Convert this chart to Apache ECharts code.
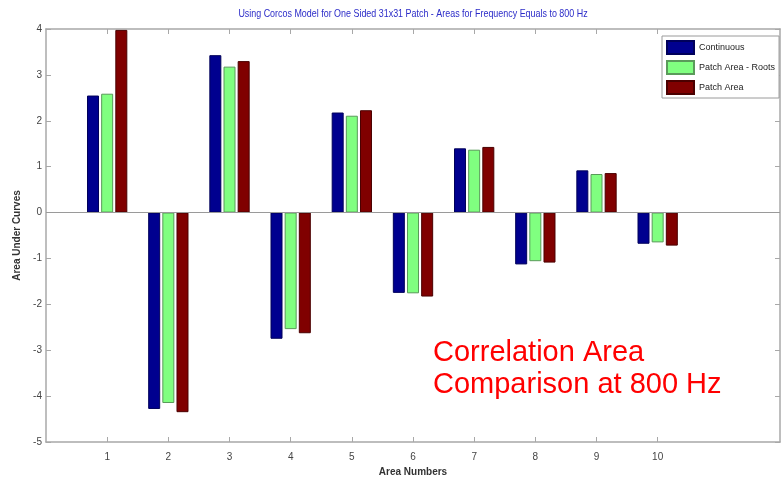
<!DOCTYPE html>
<html>
<head>
<meta charset="utf-8">
<script src="https://cdn.jsdelivr.net/npm/echarts@6/dist/echarts.min.js"></script>
<style>
html,body{margin:0;padding:0;background:#fff;}
#chart{width:782px;height:482px;}
</style>
</head>
<body>
<div id="chart"></div>
<script>
const categories = [1, 2, 3, 4, 5, 6, 7, 8, 9, 10];
const continuous = [2.55, -4.28, 3.43, -2.75, 2.18, -1.75, 1.40, -1.13, 0.92, -0.68];
const patchRoots = [2.59, -4.15, 3.18, -2.54, 2.11, -1.76, 1.37, -1.06, 0.84, -0.65];
const patchArea  = [3.98, -4.35, 3.30, -2.63, 2.23, -1.83, 1.43, -1.09, 0.86, -0.72];
const seriesNames = ['Continuous', 'Patch Area - Roots', 'Patch Area'];
const yTickLabels = [-5, -4, -3, -2, -1, 0, 1, 2, 3, 4];
const titleText = 'Using Corcos Model for One Sided 31x31 Patch - Areas for Frequency Equals to 800 Hz';
const noteText = 'Correlation Area\nComparison at 800 Hz';

const sans = "'Liberation Sans', Arial, sans-serif";
const axisGray = '#a8a8a8';
const colors = ['#00008f', '#80ff80', '#800000'];
const borders = ['#00005a', '#5a9a5a', '#4a0000'];

const chart = echarts.init(document.getElementById('chart'), null, {renderer: 'canvas'});

function mk(vals) { return categories.map((c, i) => [c, vals[i]]); }
const allVals = [continuous, patchRoots, patchArea];

const series = allVals.map((vals, k) => ({
  name: seriesNames[k],
  type: 'bar',
  xAxisIndex: 0,
  yAxisIndex: 0,
  data: mk(vals),
  barWidth: 12,
  barGap: '18%',
  itemStyle: {color: colors[k], borderColor: borders[k], borderWidth: 1},
  emphasis: {disabled: true},
  animation: false
}));
series[0].markLine = {
  silent: true,
  symbol: 'none',
  label: {show: false},
  lineStyle: {color: '#9a9a9a', type: 'solid', width: 1},
  data: [{yAxis: 0}],
  animation: false
};

const option = {
  backgroundColor: '#ffffff',
  animation: false,
  legend: {
    orient: 'vertical',
    left: 662,
    top: 36,
    itemWidth: 27,
    itemHeight: 13,
    itemGap: 5,
    icon: 'rect',
    borderColor: '#9a9a9a',
    borderWidth: 1,
    padding: [4, 4, 3, 4],
    backgroundColor: '#fff',
    textStyle: {fontFamily: sans, fontSize: 9, color: '#222'},
    data: seriesNames
  },
  grid: {left: 46, right: 2, top: 29, bottom: 39, containLabel: false},
  xAxis: [{
    type: 'value',
    position: 'bottom',
    min: 0, max: 12, interval: 1,
    name: 'Area Numbers',
    nameLocation: 'middle',
    nameGap: 25,
    nameTextStyle: {fontFamily: sans, fontSize: 10, fontWeight: 'bold', color: '#333'},
    axisLine: {show: true, onZero: false, lineStyle: {color: axisGray, width: 1.5}},
    axisTick: {show: true, inside: true, length: 5, customValues: categories, lineStyle: {color: axisGray}},
    axisLabel: {show: true, customValues: categories, margin: 10, fontFamily: sans, fontSize: 10, color: '#444'},
    splitLine: {show: false}
  }, {
    type: 'value',
    position: 'top',
    min: 0, max: 12, interval: 1,
    axisLine: {show: true, onZero: false, lineStyle: {color: axisGray, width: 1.5}},
    axisTick: {show: true, inside: true, length: 5, customValues: categories, lineStyle: {color: axisGray}},
    axisLabel: {show: false},
    splitLine: {show: false}
  }],
  yAxis: [{
    type: 'value',
    position: 'left',
    min: -5, max: 4, interval: 1,
    name: 'Area Under Curves',
    nameLocation: 'middle',
    nameGap: 15,
    nameTextStyle: {fontFamily: sans, fontSize: 10, fontWeight: 'bold', color: '#333'},
    axisLine: {show: true, onZero: false, lineStyle: {color: axisGray, width: 1.5}},
    axisTick: {show: true, inside: true, length: 5, lineStyle: {color: axisGray}},
    axisLabel: {show: true, margin: 4, fontFamily: sans, fontSize: 10, color: '#444',
      formatter: v => (yTickLabels.indexOf(v) >= 0 ? String(v) : '')},
    splitLine: {show: false}
  }, {
    type: 'value',
    position: 'right',
    min: -5, max: 4, interval: 1,
    axisLine: {show: true, onZero: false, lineStyle: {color: axisGray, width: 1.5}},
    axisTick: {show: true, inside: true, length: 5, lineStyle: {color: axisGray}},
    axisLabel: {show: false},
    splitLine: {show: false}
  }],
  graphic: [{
    type: 'text',
    x: 413,
    y: 9,
    scaleX: 0.85,
    style: {
      text: titleText,
      fill: '#2b2bc8',
      align: 'center',
      verticalAlign: 'top',
      font: "10.5px 'Liberation Sans', Arial, sans-serif"
    },
    silent: true
  }, {
    type: 'text',
    left: 433,
    top: 337,
    style: {
      text: noteText,
      fill: '#ff0000',
      font: "29px 'Liberation Sans', Arial, sans-serif",
      lineHeight: 32
    },
    silent: true
  }],
  series: series
};
chart.setOption(option);
</script>
</body>
</html>
